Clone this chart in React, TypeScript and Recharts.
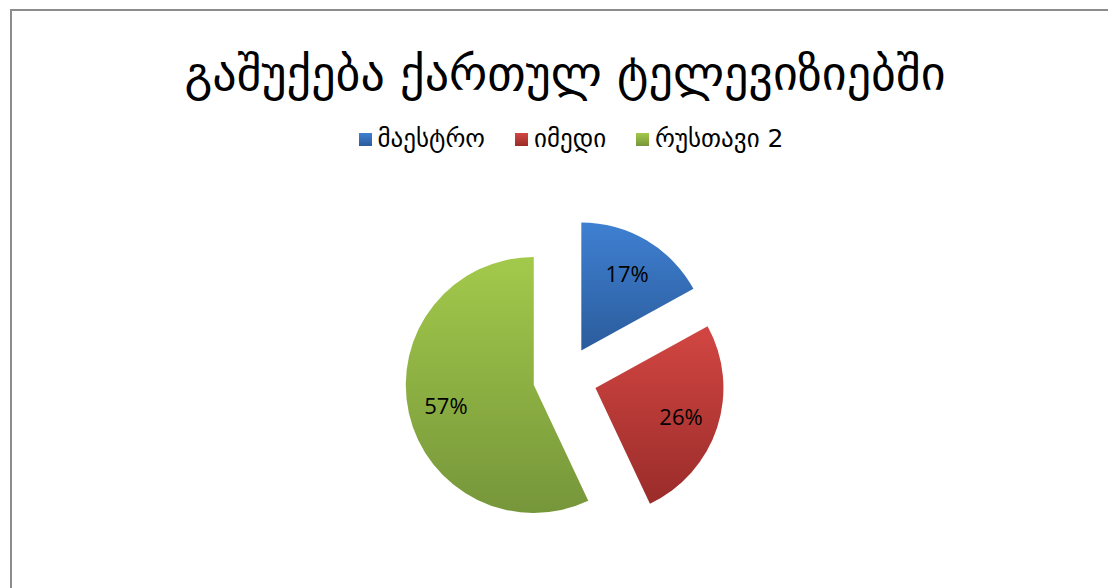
import React from "react";
import { PieChart, Pie, Cell } from "recharts";

const TITLE = "გაშუქება ქართულ ტელევიზიებში";
const channels = ["მაესტრო", "იმედი", "რუსთავი 2"];
const shares = [17, 26, 57];
const topColors = ["#3f80d2", "#d24642", "#a3c94b"];
const bottomColors = ["#2b5c9c", "#9a2c2a", "#76963a"];

const CX = 565;
const CY = 378;
const R = 128;
const EXPLODE = 32;
const LABEL_R = 90;
const RAD = Math.PI / 180;

const data = channels.map((name, i) => ({ name, value: shares[i] }));
const total = shares.reduce((a, b) => a + b, 0);
const mids: number[] = [];
{
  let cum = 0;
  shares.forEach((v) => {
    mids.push(90 - (360 * (cum + v / 2)) / total);
    cum += v;
  });
}

const makeLabel = (only: number) => (props: any) => {
  const { cx, cy, midAngle, percent, index } = props;
  if (index !== only) return null;
  const x = cx + LABEL_R * Math.cos(-midAngle * RAD);
  const y = cy + LABEL_R * Math.sin(-midAngle * RAD);
  return (
    <text
      x={x}
      y={y}
      textAnchor="middle"
      dominantBaseline="central"
      fill="#000"
      fontSize={22}
      fontFamily="'Open Sans', 'Noto Sans', sans-serif"
    >
      {`${Math.round(percent * 100)}%`}
    </text>
  );
};

export default function App() {
  return (
    <div style={{ position: "fixed", left: 0, top: 0, width: 1108, height: 588, background: "#fff" }}>
      <div
        style={{
          position: "absolute",
          left: 10,
          top: 9,
          width: 1098,
          height: 579,
          borderLeft: "2px solid #8c8c8c",
          borderTop: "2px solid #8c8c8c",
          boxSizing: "border-box",
        }}
      />
      <div
        style={{
          position: "absolute",
          left: 0,
          width: 1130,
          top: 40,
          textAlign: "center",
          fontFamily: "'DejaVu Sans', sans-serif",
          fontSize: 48,
          lineHeight: "66px",
          color: "#000",
        }}
      >
        {TITLE}
      </div>
      <div
        style={{
          position: "absolute",
          left: 0,
          width: 1142,
          top: 122,
          display: "flex",
          justifyContent: "center",
          alignItems: "center",
          fontFamily: "'DejaVu Sans', sans-serif",
          fontSize: 25,
          lineHeight: "34px",
          color: "#000",
        }}
      >
        {channels.map((c, i) => (
          <div key={c} style={{ display: "flex", alignItems: "center", marginRight: i < channels.length - 1 ? 30 : 0 }}>
            <span
              style={{
                display: "inline-block",
                width: 13,
                height: 13,
                background: `linear-gradient(${topColors[i]}, ${bottomColors[i]})`,
                marginRight: 6,
              }}
            />
            <span>{c}</span>
          </div>
        ))}
      </div>
      <div style={{ position: "absolute", left: 0, top: 0 }}>
        <PieChart width={1108} height={588} margin={{ top: 0, right: 0, bottom: 0, left: 0 }}>
          <defs>
            {channels.map((c, i) => (
              <linearGradient key={c} id={`grad${i}`} x1="0" y1="0" x2="0" y2="1">
                <stop offset="0%" stopColor={topColors[i]} />
                <stop offset="100%" stopColor={bottomColors[i]} />
              </linearGradient>
            ))}
          </defs>
          {channels.map((c, k) => (
            <Pie
              key={c}
              data={data}
              dataKey="value"
              nameKey="name"
              cx={CX + EXPLODE * Math.cos(mids[k] * RAD)}
              cy={CY - EXPLODE * Math.sin(mids[k] * RAD)}
              outerRadius={R}
              innerRadius={0}
              startAngle={90}
              endAngle={-270}
              stroke="none"
              isAnimationActive={false}
              legendType="none"
              labelLine={false}
              label={makeLabel(k)}
            >
              {data.map((d, j) => (
                <Cell key={d.name} fill={j === k ? `url(#grad${j})` : "transparent"} stroke="none" />
              ))}
            </Pie>
          ))}
        </PieChart>
      </div>
    </div>
  );
}
